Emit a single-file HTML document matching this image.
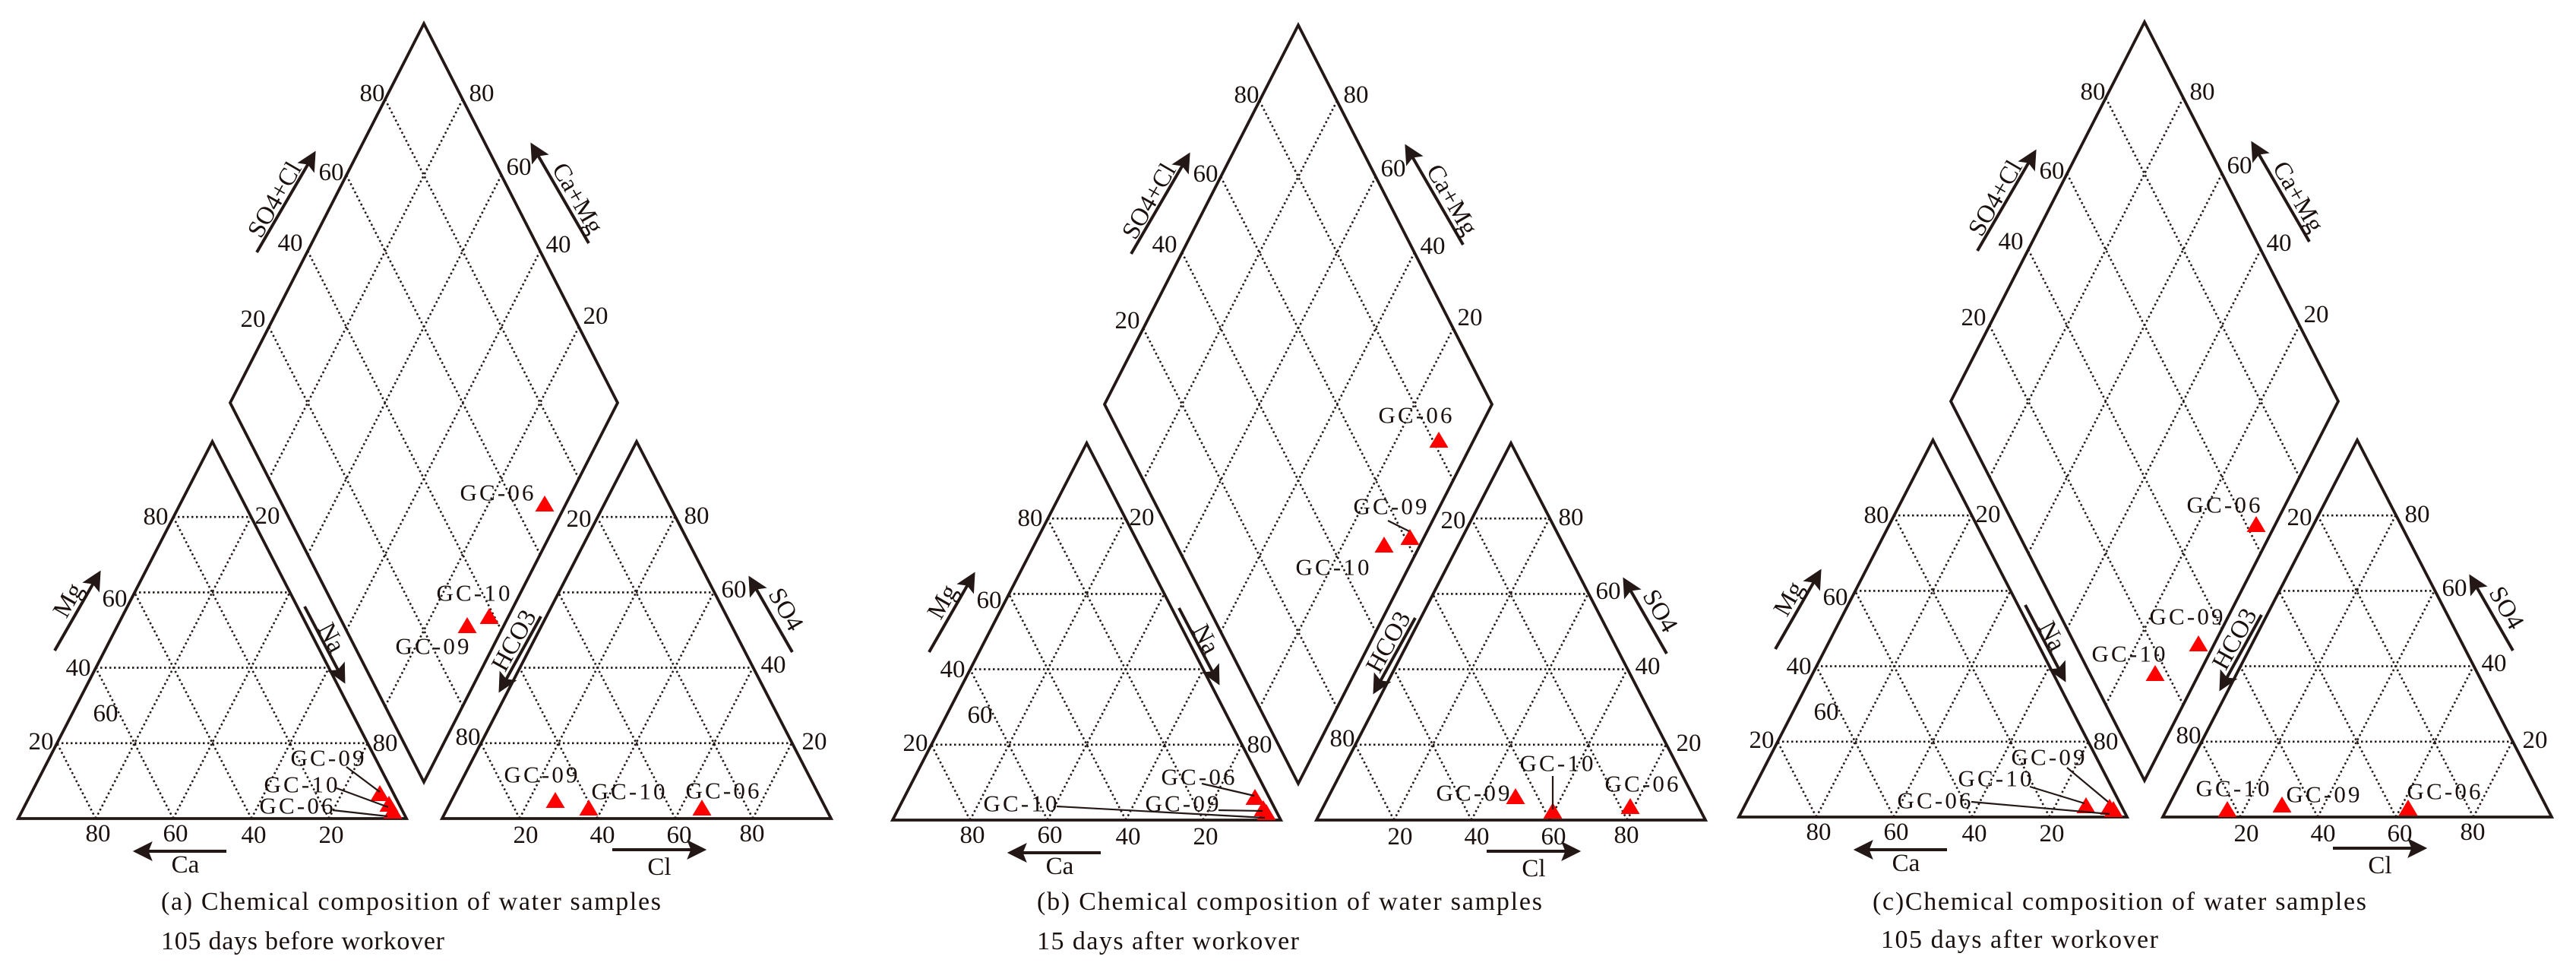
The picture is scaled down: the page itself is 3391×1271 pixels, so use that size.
<!DOCTYPE html>
<html><head><meta charset="utf-8"><style>
html,body{margin:0;padding:0;background:#fff;}
svg{display:block;}
text{font-family:"Liberation Serif",serif;fill:#1a100d;}
.t{font-size:33px;text-anchor:middle;dominant-baseline:central;}
.g{font-size:31px;text-anchor:middle;dominant-baseline:central;}
.cap{font-size:34px;}
</style></head><body>
<svg width="3391" height="1271" viewBox="0 0 3391 1271" xmlns="http://www.w3.org/2000/svg">
<defs>
<marker id="ah" viewBox="0 0 10 10" refX="8" refY="5" markerWidth="6.5" markerHeight="6.5" orient="auto" markerUnits="strokeWidth">
<path d="M0,0 L10,5 L0,10 L2,5 Z" fill="#231815"/>
</marker>
<polygon id="tri" points="0,-11 12.5,10 -12.5,10" fill="#ff0000"/>
<g id="tgrid" stroke="#231815" stroke-width="2.6" stroke-dasharray="2.5 3.5" fill="none">
<line x1="75" y1="977.8" x2="484" y2="977.8"/>
<line x1="126" y1="878.6" x2="433" y2="878.6"/>
<line x1="177" y1="779.4" x2="382" y2="779.4"/>
<line x1="228" y1="680.2" x2="331" y2="680.2"/>
<line x1="126" y1="1077" x2="330.5" y2="680.2"/>
<line x1="228" y1="1077" x2="381.5" y2="779.4"/>
<line x1="331" y1="1077" x2="433" y2="878.6"/>
<line x1="433" y1="1077" x2="484" y2="977.8"/>
<line x1="126" y1="1077" x2="75" y2="977.8"/>
<line x1="228" y1="1077" x2="126" y2="878.6"/>
<line x1="331" y1="1077" x2="177" y2="779.4"/>
<line x1="433" y1="1077" x2="228" y2="680.2"/>
</g>
<g id="frame">
<use href="#tgrid"/>
<use href="#tgrid" x="558"/>
<g stroke="#231815" stroke-width="2.6" stroke-dasharray="2.5 3.5" fill="none">
<line x1="507" y1="130.8" x2="762" y2="629.8"/>
<line x1="456" y1="230.6" x2="711" y2="729.6"/>
<line x1="405" y1="330.4" x2="660" y2="829.4"/>
<line x1="354" y1="430.2" x2="609" y2="929.2"/>
<line x1="609" y1="130.8" x2="354" y2="629.8"/>
<line x1="660" y1="230.6" x2="405" y2="729.6"/>
<line x1="711" y1="330.4" x2="456" y2="829.4"/>
<line x1="762" y1="430.2" x2="507" y2="929.2"/>
</g>
<g stroke="#231815" stroke-width="3.8" fill="none" stroke-linejoin="miter">
<polygon points="24,1077 535,1077 279.5,581"/>
<polygon points="582,1077 1094,1077 838,581"/>
<polygon points="558,31 813,530 558,1029 303,530"/>
</g>
<g stroke="#231815" stroke-width="4" fill="none" marker-end="url(#ah)">
<line x1="298" y1="1120" x2="180" y2="1120"/>
<line x1="806" y1="1118" x2="925" y2="1118"/>
<line x1="72" y1="856" x2="130" y2="755"/>
<line x1="401" y1="798" x2="452" y2="895"/>
<line x1="1043" y1="858" x2="988" y2="762"/>
<line x1="712" y1="811" x2="659" y2="907"/>
<line x1="338" y1="332" x2="413" y2="203"/>
<line x1="775" y1="320" x2="701" y2="192"/>
</g>
</g>
</defs>

<!-- Panel A -->
<g>
<use href="#frame"/>
<g class="t">
<text x="205" y="680">80</text><text x="151" y="788">60</text><text x="103" y="879">40</text><text x="54" y="976">20</text>
<text x="139" y="939">60</text>
<text x="352" y="679">20</text><text x="507" y="978">80</text>
<text x="129" y="1097">80</text><text x="231" y="1097">60</text><text x="334" y="1099">40</text><text x="436" y="1099">20</text>
<text x="490" y="123">80</text><text x="436" y="227">60</text><text x="382" y="320">40</text><text x="333" y="420">20</text>
<text x="634" y="123">80</text><text x="683" y="220">60</text><text x="735" y="322">40</text><text x="784" y="416">20</text>
<text x="762" y="683">20</text><text x="616" y="970">80</text>
<text x="917" y="679">80</text><text x="966" y="776">60</text><text x="1018" y="875">40</text><text x="1072" y="976">20</text>
<text x="692" y="1099">20</text><text x="793" y="1099">40</text><text x="894" y="1099">60</text><text x="990" y="1097">80</text>
<text x="244" y="1138">Ca</text><text x="868" y="1141">Cl</text>
<text transform="translate(90,790) rotate(-60)">Mg</text>
<text transform="translate(436,839) rotate(62)">Na</text>
<text transform="translate(1034,802) rotate(60)">SO4</text>
<text transform="translate(677,843) rotate(-61)">HCO3</text>
<text transform="translate(362,263) rotate(-60)">SO4+Cl</text>
<text transform="translate(760,261) rotate(60)">Ca+Mg</text>
</g>
<use href="#tri" x="717" y="663"/><use href="#tri" x="644" y="811"/><use href="#tri" x="615" y="823"/>
<use href="#tri" x="500" y="1044"/><use href="#tri" x="512" y="1058"/><use href="#tri" x="517" y="1067"/>
<use href="#tri" x="731" y="1053"/><use href="#tri" x="775" y="1063"/><use href="#tri" x="924" y="1063"/>
<g stroke="#231815" stroke-width="2.2">
<line x1="456" y1="1009" x2="500" y2="1042"/><line x1="443" y1="1037" x2="511" y2="1062"/><line x1="438" y1="1066" x2="510" y2="1074"/>
</g>
<g class="g">
<text x="654" y="648" textLength="97">GC-06</text><text x="623" y="780" textLength="97">GC-10</text><text x="569" y="850" textLength="97">GC-09</text>
<text x="431" y="997" textLength="97">GC-09</text><text x="396" y="1032" textLength="97">GC-10</text><text x="390" y="1060" textLength="97">GC-06</text>
<text x="712" y="1019" textLength="97">GC-09</text><text x="827" y="1041" textLength="97">GC-10</text><text x="951" y="1040" textLength="97">GC-06</text>
</g>
<text class="cap" x="212" y="1197" textLength="658" lengthAdjust="spacing">(a) Chemical composition of water samples</text>
<text class="cap" x="212" y="1249" textLength="373" lengthAdjust="spacing">105 days before workover</text>
</g>

<!-- Panel B -->
<g transform="translate(1151,2)">
<use href="#frame"/>
<g class="t">
<text x="205" y="680">80</text><text x="151" y="788">60</text><text x="103" y="879">40</text><text x="54" y="976">20</text>
<text x="139" y="939">60</text>
<text x="352" y="679">20</text><text x="507" y="978">80</text>
<text x="129" y="1097">80</text><text x="231" y="1097">60</text><text x="334" y="1099">40</text><text x="436" y="1099">20</text>
<text x="490" y="123">80</text><text x="436" y="227">60</text><text x="382" y="320">40</text><text x="333" y="420">20</text>
<text x="634" y="123">80</text><text x="683" y="220">60</text><text x="735" y="322">40</text><text x="784" y="416">20</text>
<text x="762" y="683">20</text><text x="616" y="970">80</text>
<text x="917" y="679">80</text><text x="966" y="776">60</text><text x="1018" y="875">40</text><text x="1072" y="976">20</text>
<text x="692" y="1099">20</text><text x="793" y="1099">40</text><text x="894" y="1099">60</text><text x="990" y="1097">80</text>
<text x="244" y="1138">Ca</text><text x="868" y="1141">Cl</text>
<text transform="translate(90,790) rotate(-60)">Mg</text>
<text transform="translate(436,839) rotate(62)">Na</text>
<text transform="translate(1034,802) rotate(60)">SO4</text>
<text transform="translate(677,843) rotate(-61)">HCO3</text>
<text transform="translate(362,263) rotate(-60)">SO4+Cl</text>
<text transform="translate(760,261) rotate(60)">Ca+Mg</text>
</g>
<use href="#tri" x="743" y="577"/><use href="#tri" x="705" y="705"/><use href="#tri" x="671" y="715"/>
<use href="#tri" x="501" y="1047"/><use href="#tri" x="512" y="1062"/><use href="#tri" x="516" y="1067"/>
<use href="#tri" x="844" y="1046"/><use href="#tri" x="893" y="1065"/><use href="#tri" x="995" y="1059"/>
<g stroke="#231815" stroke-width="2.2">
<line x1="676" y1="683" x2="704" y2="697"/>
<line x1="431" y1="1029" x2="500" y2="1045"/><line x1="453" y1="1064" x2="511" y2="1065"/><line x1="240" y1="1059" x2="514" y2="1074"/>
<line x1="893" y1="1019" x2="893" y2="1063"/>
</g>
<g class="g">
<text x="712" y="544" textLength="97">GC-06</text><text x="679" y="664" textLength="97">GC-09</text><text x="603" y="744" textLength="97">GC-10</text>
<text x="426" y="1020" textLength="97">GC-06</text><text x="405" y="1055" textLength="97">GC-09</text><text x="192" y="1055" textLength="97">GC-10</text>
<text x="788" y="1041" textLength="97">GC-09</text><text x="898" y="1002" textLength="97">GC-10</text><text x="1010" y="1029" textLength="97">GC-06</text>
</g>
<text class="cap" x="214" y="1195" textLength="665" lengthAdjust="spacing">(b) Chemical composition of water samples</text>
<text class="cap" x="214" y="1247" textLength="345" lengthAdjust="spacing">15 days after workover</text>
</g>

<!-- Panel C -->
<g transform="translate(2265,-2)">
<use href="#frame"/>
<g class="t">
<text x="205" y="680">80</text><text x="151" y="788">60</text><text x="103" y="879">40</text><text x="54" y="976">20</text>
<text x="139" y="939">60</text>
<text x="352" y="679">20</text><text x="507" y="978">80</text>
<text x="129" y="1097">80</text><text x="231" y="1097">60</text><text x="334" y="1099">40</text><text x="436" y="1099">20</text>
<text x="490" y="123">80</text><text x="436" y="227">60</text><text x="382" y="320">40</text><text x="333" y="420">20</text>
<text x="634" y="123">80</text><text x="683" y="220">60</text><text x="735" y="322">40</text><text x="784" y="416">20</text>
<text x="762" y="683">20</text><text x="616" y="970">80</text>
<text x="917" y="679">80</text><text x="966" y="776">60</text><text x="1018" y="875">40</text><text x="1072" y="976">20</text>
<text x="692" y="1099">20</text><text x="793" y="1099">40</text><text x="894" y="1099">60</text><text x="990" y="1097">80</text>
<text x="244" y="1138">Ca</text><text x="868" y="1141">Cl</text>
<text transform="translate(90,790) rotate(-60)">Mg</text>
<text transform="translate(436,839) rotate(62)">Na</text>
<text transform="translate(1034,802) rotate(60)">SO4</text>
<text transform="translate(677,843) rotate(-61)">HCO3</text>
<text transform="translate(362,263) rotate(-60)">SO4+Cl</text>
<text transform="translate(760,261) rotate(60)">Ca+Mg</text>
</g>
<use href="#tri" x="705" y="692"/><use href="#tri" x="629" y="849"/><use href="#tri" x="572" y="888"/>
<use href="#tri" x="481" y="1062"/><use href="#tri" x="512" y="1064"/><use href="#tri" x="517" y="1067"/>
<use href="#tri" x="667" y="1067"/><use href="#tri" x="739" y="1061"/><use href="#tri" x="905" y="1065"/>
<g stroke="#231815" stroke-width="2.2">
<line x1="456" y1="1012" x2="510" y2="1057"/><line x1="407" y1="1037" x2="479" y2="1059"/><line x1="330" y1="1057" x2="512" y2="1073"/>
</g>
<g class="g">
<text x="662" y="666" textLength="97">GC-06</text><text x="613" y="813" textLength="97">GC-09</text><text x="537" y="862" textLength="97">GC-10</text>
<text x="431" y="998" textLength="97">GC-09</text><text x="361" y="1026" textLength="97">GC-10</text><text x="281" y="1055" textLength="97">GC-06</text>
<text x="674" y="1039" textLength="97">GC-10</text><text x="793" y="1047" textLength="97">GC-09</text><text x="952" y="1043" textLength="97">GC-06</text>
</g>
<text class="cap" x="200" y="1199" textLength="650" lengthAdjust="spacing">(c)Chemical composition of water samples</text>
<text class="cap" x="211" y="1249" textLength="365" lengthAdjust="spacing">105 days after workover</text>
</g>
</svg>
</body></html>
